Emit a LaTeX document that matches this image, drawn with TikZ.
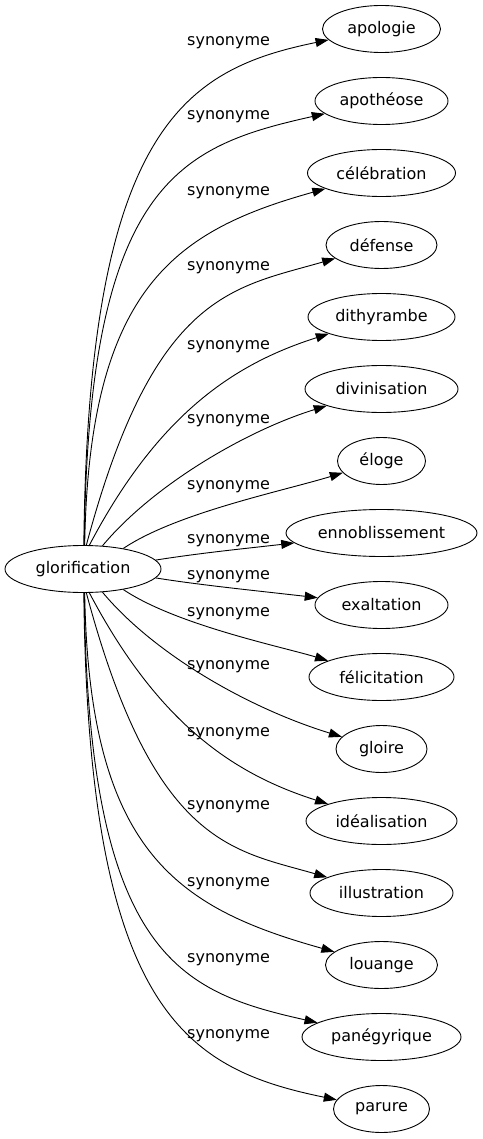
\documentclass[tikz,border=0pt]{standalone}
\usepackage{fontspec}
\setmainfont{DejaVu Sans}
\usetikzlibrary{shapes.geometric,arrows.meta}
\tikzset{
  word/.style={draw=black, line width=0.9pt, ellipse, inner sep=0pt, minimum height=47pt, font=\fontsize{16pt}{19pt}\selectfont},
  rel/.style={anchor=base west, inner sep=0pt, font=\fontsize{16pt}{19pt}\selectfont},
  syn/.style={draw=black, line width=0.9pt, -{Triangle[length=13pt,width=9pt]}},
}
\begin{document}
\begin{tikzpicture}[x=1pt,y=-1pt]
\useasboundingbox (0,0) rectangle (482,1139);
% nodes
\node[word, minimum width=156pt] (g) at (83,569) {glorification};
\node[word, minimum width=118pt] (n1) at (381.5,29) {apologie};
\node[word, minimum width=133pt] (n2) at (381.5,101) {apothéose};
\node[word, minimum width=148pt] (n3) at (381.5,173) {célébration};
\node[word, minimum width=111pt] (n4) at (381.5,245) {défense};
\node[word, minimum width=147pt] (n5) at (381.5,317) {dithyrambe};
\node[word, minimum width=153pt] (n6) at (381.5,389) {divinisation};
\node[word, minimum width=88pt] (n7) at (381.5,461) {éloge};
\node[word, minimum width=191pt] (n8) at (381.5,533) {ennoblissement};
\node[word, minimum width=133pt] (n9) at (381.5,605) {exaltation};
\node[word, minimum width=145pt] (n10) at (381.5,677) {félicitation};
\node[word, minimum width=91pt] (n11) at (381.5,749) {gloire};
\node[word, minimum width=151pt] (n12) at (381.5,821) {idéalisation};
\node[word, minimum width=143pt] (n13) at (381.5,893) {illustration};
\node[word, minimum width=112pt] (n14) at (381.5,965) {louange};
\node[word, minimum width=159pt] (n15) at (381.5,1037) {panégyrique};
\node[word, minimum width=96pt] (n16) at (381.5,1109) {parure};
% labels
\node[rel] (l1) at (187,46) {synonyme};
\node[rel] (l2) at (187,119.5) {synonyme};
\node[rel] (l3) at (187,196) {synonyme};
\node[rel] (l4) at (187,271) {synonyme};
\node[rel] (l5) at (187,349.5) {synonyme};
\node[rel] (l6) at (187,423) {synonyme};
\node[rel] (l7) at (187,489.5) {synonyme};
\node[rel] (l8) at (187,543) {synonyme};
\node[rel] (l9) at (187,579.5) {synonyme};
\node[rel] (l10) at (187,616) {synonyme};
\node[rel] (l11) at (187,669.5) {synonyme};
\node[rel] (l12) at (187,736) {synonyme};
\node[rel] (l13) at (187,809.5) {synonyme};
\node[rel] (l14) at (187,886.5) {synonyme};
\node[rel] (l15) at (187,962.5) {synonyme};
\node[rel] (l16) at (187,1038) {synonyme};
% edges (upper)
\draw[syn] (g.88) .. controls (88,125) and (187,69) .. (n1);
\draw[syn] (g.87) .. controls (88,181) and (181,146) .. (n2);
\draw[syn] (g.86) .. controls (89,285) and (178,230) .. (n3);
\draw[syn] (g.82) .. controls (154,292) and (233,288) .. (n4);
\draw[syn] (g.75) .. controls (160,411) and (237,363) .. (n5);
\draw[syn] (g.50) .. controls (154,484) and (248,430) .. (n6);
\draw[syn] (g.27) .. controls (176,513) and (283,491) .. (n7);
\draw[syn] (g.7) .. controls (200,553) and (250,548) .. (n8);
% edges (lower)
\draw[syn] (g.-7) .. controls (200,585) and (250,590) .. (n9);
\draw[syn] (g.-27) .. controls (176,625) and (283,647) .. (n10);
\draw[syn] (g.-50) .. controls (154,654) and (248,708) .. (n11);
\draw[syn] (g.-75) .. controls (160,727) and (237,775) .. (n12);
\draw[syn] (g.-82) .. controls (154,846) and (233,850) .. (n13);
\draw[syn] (g.-86) .. controls (89,853) and (178,908) .. (n14);
\draw[syn] (g.-87) .. controls (88,957) and (181,992) .. (n15);
\draw[syn] (g.-88) .. controls (88,1013) and (187,1069) .. (n16);
\end{tikzpicture}
\end{document}
